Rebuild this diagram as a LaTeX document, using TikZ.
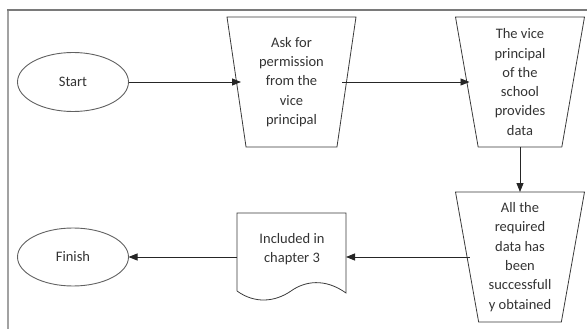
\documentclass[tikz,border=0pt]{standalone}
\usepackage{fontspec}
\setmainfont{Carlito}
\usetikzlibrary{shapes.geometric,arrows.meta,calc}
\definecolor{txt}{HTML}{333333}
\definecolor{edge}{HTML}{3A3A3A}
\definecolor{framegray}{HTML}{7A7A7A}
\begin{document}
\begin{tikzpicture}[x=1pt,y=-1pt,
  every node/.style={font=\fontsize{14.5}{19.3}\selectfont, text=txt, inner sep=0pt, outer sep=0pt},
  terminal/.style={ellipse, draw=edge!80, line width=0.9pt, minimum width=111, minimum height=59},
  manual/.style={trapezium, draw=edge, line width=0.8pt, shape border rotate=180,
    trapezium stretches body, trapezium angle=78, minimum width=129, minimum height=130, align=center},
  docbox/.style={rectangle, minimum width=109, minimum height=78},
  flow/.style={draw=black!85, line width=0.8pt, -{Triangle[length=9pt,width=7pt]}}]
\useasboundingbox (0,0) rectangle (587,329);
% frame
\draw[framegray!70, line width=2pt] (8,329) -- (8,10);
\draw[framegray, line width=2.5pt] (7,10) -- (587,10);
% nodes
\node[terminal] (start) at (73,82) {Start};
\node[manual] (ask) at (291.5,82) {Ask for\\permission\\from the\\vice\\principal};
\node[manual] (vp) at (520,82) {The vice\\principal\\of the\\school\\provides\\data};
\node[manual] (all) at (520,257) {All the\\required\\data has\\been\\successfull\\y obtained};
\node[docbox] (doc) at (291.5,252) {};
\node[align=center] (doctext) at (292,249) {Included in\\chapter 3};
\node[terminal, minimum height=58] (finish) at (73,257) {Finish};
% document outline
\draw[edge, line width=0.8pt] (doc.south west) -- (doc.north west) -- (doc.north east) -- ([yshift=-2]doc.south east)
  .. controls (325,278) and (305,281) .. (291,291)
  .. controls (275,302) and (255,304) .. (doc.south west);
% connectors
\draw[flow] (start.east) -- ($(ask.center)+(-50.5,0)$);
\draw[flow] ($(ask.center)+(50.5,0)$) -- ($(vp.center)+(-50.5,0)$);
\draw[flow] (vp.south) -- (all.north);
\draw[flow] ($(all.center)+(-50.5,0)$) -- (all.center -| doc.east);
\draw[flow] (doc.west |- finish.east) -- (finish.east);
\end{tikzpicture}
\end{document}
